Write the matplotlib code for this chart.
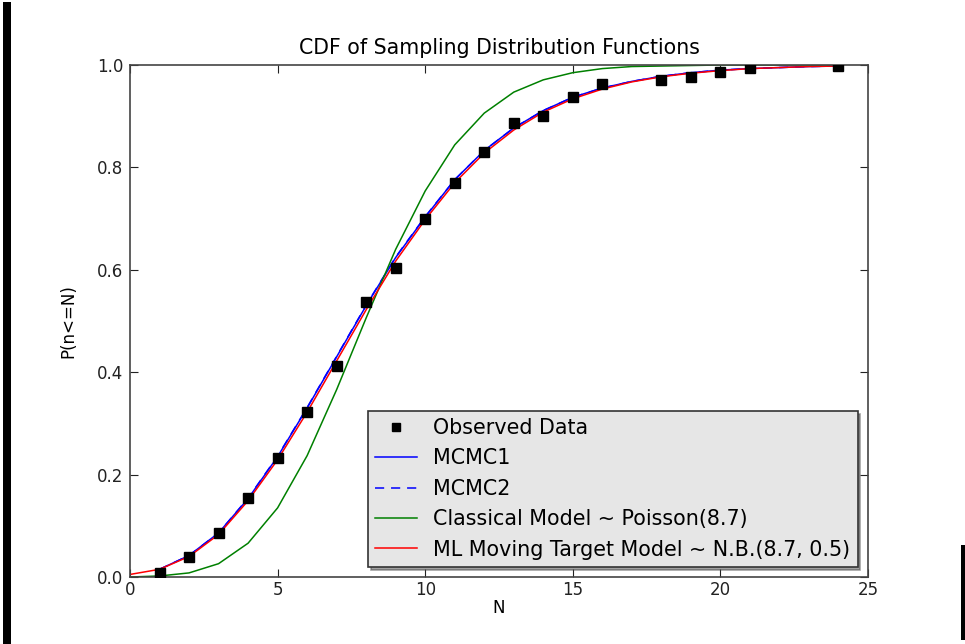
import matplotlib
matplotlib.use("Agg")
import matplotlib.pyplot as plt
from matplotlib.patches import Rectangle

# Observed data
obs_n = [1, 2, 3, 4, 5, 6, 7, 8, 9, 10, 11, 12, 13, 14, 15, 16, 18, 19, 20, 21, 24]
obs_p = [0.008, 0.040, 0.085, 0.155, 0.232, 0.322, 0.413, 0.538, 0.604, 0.700,
         0.770, 0.830, 0.886, 0.900, 0.937, 0.962, 0.970, 0.977, 0.986, 0.994, 0.998]

# MCMC curves (N = 1..24)
mcmc_n = list(range(1, 25))
mcmc1_p = [0.015, 0.042, 0.086, 0.153, 0.235, 0.330, 0.430, 0.530, 0.624, 0.703,
           0.776, 0.833, 0.877, 0.911, 0.937, 0.955, 0.968, 0.978, 0.985, 0.990,
           0.993, 0.995, 0.997, 0.998]
mcmc2_p = [0.015, 0.042, 0.086, 0.154, 0.236, 0.331, 0.431, 0.531, 0.625, 0.704,
           0.776, 0.833, 0.877, 0.911, 0.937, 0.955, 0.968, 0.978, 0.985, 0.990,
           0.993, 0.995, 0.997, 0.998]

# Classical model ~ Poisson(8.7), N = 0..24
pois_n = list(range(0, 25))
pois_p = [0.000, 0.002, 0.008, 0.026, 0.066, 0.135, 0.237, 0.366, 0.506, 0.640,
          0.754, 0.844, 0.906, 0.947, 0.971, 0.985, 0.993, 0.997, 0.998, 0.999,
          1.000, 1.000, 1.000, 1.000, 1.000]

# ML moving target model ~ N.B.(8.7, 0.5), N = 0..24
nb_n = list(range(0, 25))
nb_p = [0.005, 0.015, 0.040, 0.083, 0.149, 0.229, 0.322, 0.422, 0.522, 0.617,
        0.698, 0.770, 0.828, 0.873, 0.908, 0.934, 0.953, 0.967, 0.977, 0.984,
        0.989, 0.993, 0.995, 0.997, 0.998]

x_ticks = [0, 5, 10, 15, 20, 25]
y_ticks = [0.0, 0.2, 0.4, 0.6, 0.8, 1.0]

fig = plt.figure(figsize=(9.65, 6.44), dpi=100)
fig.patch.set_facecolor("white")
ax = fig.add_axes([130 / 965, 1 - 577 / 644, 738 / 965, 512 / 644])

ax.plot(obs_n, obs_p, linestyle="none", marker="s", color="black",
        markersize=6.5, label="Observed Data", zorder=3)
ax.plot(mcmc_n, mcmc1_p, color="blue", linewidth=1.1, label="MCMC1")
ax.plot(mcmc_n, mcmc2_p, color="blue", linewidth=1.1, linestyle=(0, (6, 4.5)),
        label="MCMC2")
ax.plot(pois_n, pois_p, color="green", linewidth=1.1,
        label="Classical Model ~ Poisson(8.7)")
ax.plot(nb_n, nb_p, color="red", linewidth=1.1,
        label="ML Moving Target Model ~ N.B.(8.7, 0.5)")

ax.set_xlim(0, 25)
ax.set_ylim(0, 1.0)
ax.set_xticks(x_ticks)
ax.set_yticks(y_ticks)
ax.set_xticklabels([str(t) for t in x_ticks])
ax.set_yticklabels([f"{t:.1f}" for t in y_ticks])
ax.tick_params(direction="in", length=6, width=0.8, top=True, right=True,
               labelsize=12, colors="#222222")
ax.tick_params(axis="x", pad=3)
ax.tick_params(axis="y", pad=5)
for s in ax.spines.values():
    s.set_linewidth(1.2)
    s.set_color("#444444")

ax.set_title("CDF of Sampling Distribution Functions", fontsize=14.8, pad=8)
ax.set_xlabel("N", fontsize=12, labelpad=0)
ax.set_ylabel("P(n<=N)", fontsize=12, labelpad=14)

leg = ax.legend(loc="lower right", bbox_to_anchor=(0.986, 0.02),
                borderaxespad=0, numpoints=1, fontsize=14.9, shadow=True,
                fancybox=False, framealpha=1, handlelength=2.0,
                handletextpad=0.8, labelspacing=0.5, borderpad=0.35,
                markerscale=0.8)
leg.get_frame().set_facecolor("#e6e6e6")
leg.get_frame().set_edgecolor("#333333")
leg.get_frame().set_linewidth(1.2)

# black edge bars of the screenshot
fig.patches.append(Rectangle((3 / 965, 0), 8 / 965, 642 / 644, transform=fig.transFigure,
                             facecolor="black", edgecolor="none"))
fig.patches.append(Rectangle((961 / 965, 4 / 644), 4 / 965, 95 / 644,
                             transform=fig.transFigure,
                             facecolor="black", edgecolor="none"))

fig.savefig("out.png", dpi=100)
